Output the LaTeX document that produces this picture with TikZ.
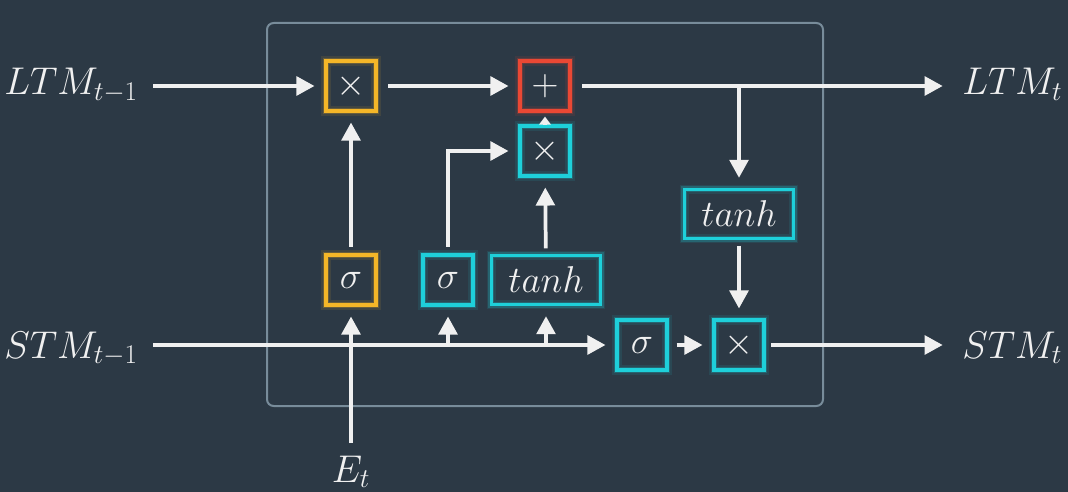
\RequirePackage{fix-cm}
\documentclass[tikz,border=0pt]{standalone}
\usetikzlibrary{arrows.meta}
\definecolor{bg}{RGB}{44,57,69}
\definecolor{frame}{RGB}{120,140,154}
\definecolor{gyel}{RGB}{244,182,40}
\definecolor{gred}{RGB}{234,72,52}
\definecolor{gcya}{RGB}{30,208,218}
\definecolor{ink}{RGB}{240,240,240}
\tikzset{
  txt/.style={text=ink, font=\fontsize{29}{32}\selectfont, inner sep=0pt},
  gate/.style={draw=#1, line width=2.3pt, text=ink, minimum width=37.5pt, minimum height=37.5pt, inner sep=0pt,
     font=\fontsize{28}{30}\selectfont,
     preaction={draw=#1, line width=7pt, draw opacity=0.10},
     preaction={draw=#1, line width=4.5pt, draw opacity=0.22}},
  widegate/.style={gate=#1, minimum width=82pt, minimum height=37pt},
  arr/.style={draw=ink, line width=2.8pt, -{Triangle[length=13.5pt,width=14pt]}, shorten >=7.5pt},
  gap/.style={shorten <=8pt},
  smallarr/.style={draw=ink, line width=2.8pt, -{Triangle[length=6pt,width=8.5pt]}, shorten >=3pt},
}
\begin{document}
\begin{tikzpicture}[x=0.75pt,y=-0.75pt]
\fill[bg] (0,0) rectangle (1068,492);
\useasboundingbox (0,0) rectangle (1068,492);
\draw[frame, line width=1.5pt, rounded corners=5pt] (267,23) rectangle (823,406);

% gates
\node[gate=gyel] (mulA) at (351,86) {$\times$};
\node[gate=gred] (plus) at (545,86) {$+$};
\node[gate=gcya] (mulB) at (545,151) {$\times$};
\node[widegate=gcya] (tanhA) at (739,214) {$tanh$};
\node[gate=gyel] (sigA) at (351,280) {$\sigma$};
\node[gate=gcya] (sigB) at (448,280) {$\sigma$};
\node[widegate=gcya] (tanhB) at (546,280) {$tanh$};
\node[gate=gcya] (sigC) at (642,345) {$\sigma$};
\node[gate=gcya] (mulC) at (739,345) {$\times$};

% labels
\node[txt, anchor=base west] (ltmin) at (4,95) {$LTM_{t-1}$};
\node[txt, anchor=base west] (stmin) at (4,358) {$STM_{t-1}$};
\node[txt, anchor=base west] (ltmout) at (962,95) {$LTM_t$};
\node[txt, anchor=base west] (stmout) at (962,358) {$STM_t$};
\node[txt, anchor=base] (et) at (351,482) {$E_t$};
\coordinate (etTop) at (351,443);

% connectors
\draw[arr] (153,86) -- (mulA);
\draw[arr, gap] (mulA) -- (plus);
\draw[arr, gap] (plus) -- ([xshift=-7pt]ltmout.west |- plus);
\draw[arr] (tanhA.north |- plus) -- (tanhA);
\draw[arr, gap, shorten <=4pt] (tanhA) -- (mulC);
\draw[smallarr] (mulB) -- (plus);
\draw[arr, gap, shorten <=4pt] (tanhB) -- (mulB);
\draw[arr, gap, shorten <=5pt] (sigB.north) -- (sigB.north |- mulB) -- (mulB);
\draw[arr, gap, shorten <=5pt] (sigA) -- (mulA);

\draw[arr] (153,345) -- (sigC);
\draw[arr] (sigB.south |- sigC) -- (sigB);
\draw[arr] (tanhB.south |- sigC) -- (tanhB);
\draw[arr] (etTop) -- (sigA);
\draw[arr, gap, shorten <=6pt] (sigC) -- (mulC);
\draw[arr, gap, shorten <=4pt] (mulC) -- ([xshift=-7pt]stmout.west |- mulC);
\end{tikzpicture}
\end{document}
